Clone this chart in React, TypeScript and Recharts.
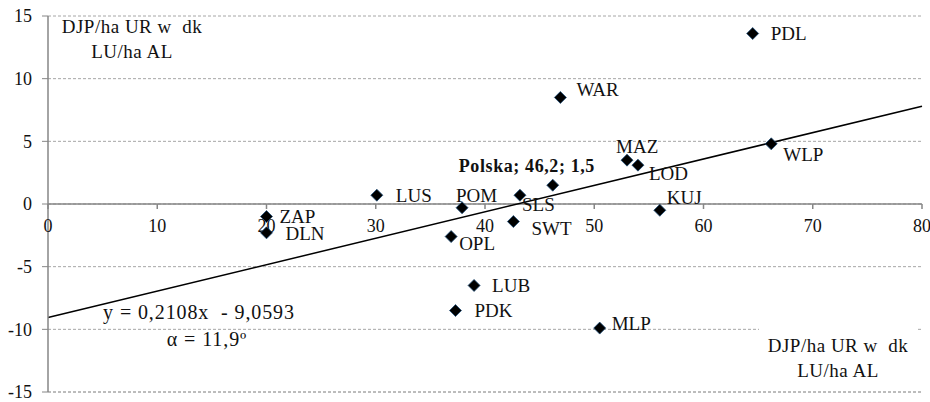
import React from "react";
import {
  ReferenceDot,
  ReferenceLine,
  Scatter,
  ScatterChart,
  CartesianGrid,
  XAxis,
  YAxis,
} from "recharts";

// voivodeships: LU/ha AL (x) vs change (y)
const regionNames = ["PDL", "WAR", "MAZ", "LOD", "WLP", "KUJ", "SLS", "SWT", "POM", "OPL", "LUS", "ZAP", "DLN", "LUB", "PDK", "MLP"];
const regionX = [64.5, 46.9, 53.0, 54.0, 66.2, 56.0, 43.2, 42.6, 37.9, 36.9, 30.1, 20.0, 20.0, 39.0, 37.3, 50.5];
const regionY = [13.6, 8.5, 3.5, 3.1, 4.8, -0.5, 0.7, -1.4, -0.3, -2.6, 0.7, -1.0, -2.3, -6.5, -8.5, -9.9];

const polskaX = 46.2;
const polskaY = 1.5;

const xTicks = [0, 10, 20, 30, 40, 50, 60, 70, 80];
const yTicks = [-15, -10, -5, 0, 5, 10, 15];

const trendSlope = 0.2108;
const trendIntercept = -9.0593;

// label placement relative to the marker (px)
const labelOffsets: Record<string, [number, number]> = {
  PDL: [18, 0],
  WAR: [16, -8],
  MAZ: [-11, -14],
  LOD: [11, 8],
  WLP: [12, 11],
  KUJ: [7, -13],
  SLS: [2, 9],
  SWT: [18, 7],
  POM: [-6, -12],
  OPL: [8, 7],
  LUS: [19, 0],
  ZAP: [13, 0],
  DLN: [19, 1],
  LUB: [18, 0],
  PDK: [19, 0],
  MLP: [12, -5],
};

const regions = regionNames.map((name, i) => ({ name, x: regionX[i], y: regionY[i] }));
const polska = [{ name: "Polska", x: polskaX, y: polskaY }];

const FONT = "'Liberation Serif', 'Times New Roman', serif";
const AXIS = "#868686";

function Diamond({ cx, cy, payload }: any) {
  const s = 6;
  const off = labelOffsets[payload.name] || [14, 0];
  const isPl = payload.name === "Polska";
  return (
    <g>
      <polygon
        points={`${cx},${cy - s} ${cx + s},${cy} ${cx},${cy + s} ${cx - s},${cy}`}
        fill="#000"
        stroke="#1f4e79"
        strokeWidth={0.8}
      />
      <text
        x={cx + (isPl ? -94 : off[0])}
        y={cy + (isPl ? -19 : off[1])}
        dominantBaseline="central"
        fontFamily={FONT}
        fontSize={isPl ? 18 : 19}
        fontWeight={isPl ? "bold" : "normal"}
        letterSpacing={isPl ? 0.6 : 0}
        fill="#111"
      >
        {isPl ? `Polska; ${String(polskaX).replace(".", ",")}; ${String(polskaY).replace(".", ",")}` : payload.name}
      </text>
    </g>
  );
}

function XTick(t: number) {
  return ({ cx, cy }: any) => (
    <g>
      <line x1={cx} y1={cy} x2={cx} y2={cy + 5} stroke={AXIS} strokeWidth={1.5} />
      <text x={cx} y={cy + 22} textAnchor="middle" dominantBaseline="central" fontFamily={FONT} fontSize={18} fill="#111">
        {t}
      </text>
    </g>
  );
}

export default function App() {
  const txt: React.CSSProperties = {
    position: "absolute",
    fontFamily: FONT,
    fontSize: 19,
    color: "#111",
    textAlign: "center",
    whiteSpace: "pre",
    lineHeight: "25px",
    letterSpacing: 0.5,
  };
  return (
    <div style={{ position: "absolute", left: 0, top: 0, width: 930, height: 402, background: "#fff" }}>
      <ScatterChart width={930} height={402} margin={{ top: 16, right: 8, bottom: 10, left: 0 }}>
        <CartesianGrid vertical={false} stroke="#a6a6a6" strokeDasharray="3 2" horizontalPoints={undefined} />
        <XAxis type="number" dataKey="x" domain={[0, 80]} ticks={xTicks} hide />
        <YAxis
          type="number"
          dataKey="y"
          domain={[-15, 15]}
          ticks={yTicks}
          interval={0}
          width={48}
          tickSize={6}
          tickMargin={10}
          axisLine={{ stroke: AXIS, strokeWidth: 1.5 }}
          tickLine={{ stroke: AXIS }}
          tick={{ fontFamily: FONT, fontSize: 18, fill: "#111" }}
        />
        <ReferenceLine y={-15} stroke="#a6a6a6" strokeDasharray="3 2" />
        <ReferenceLine y={0} stroke={AXIS} strokeWidth={1.5} />
        {xTicks.map((t) => (
          <ReferenceDot key={t} x={t} y={0} r={0} shape={XTick(t)} />
        ))}
        <ReferenceLine
          segment={[
            { x: 0, y: trendIntercept },
            { x: 80, y: trendSlope * 80 + trendIntercept },
          ]}
          stroke="#000"
          strokeWidth={1.5}
        />
        <Scatter data={regions} shape={Diamond} isAnimationActive={false} />
        <Scatter data={polska} shape={Diamond} isAnimationActive={false} />
      </ScatterChart>
      <div style={{ ...txt, left: 52, top: 14, width: 160 }}>{"DJP/ha UR w  dk\nLU/ha AL"}</div>
      <div style={{ ...txt, left: 759, top: 327, width: 158, paddingTop: 6, paddingBottom: 4, background: "#fff" }}>
        {"DJP/ha UR w  dk\nLU/ha AL"}
      </div>
      <div style={{ ...txt, left: 89, top: 299, width: 220, fontSize: 20, lineHeight: "27px", letterSpacing: 0.9 }}>
        {"y = 0,2108x  - 9,0593"}
      </div>
      <div style={{ ...txt, left: 107, top: 326, width: 200, fontSize: 20, lineHeight: "27px", letterSpacing: 0.9 }}>
        {"α = 11,9º"}
      </div>
    </div>
  );
}
